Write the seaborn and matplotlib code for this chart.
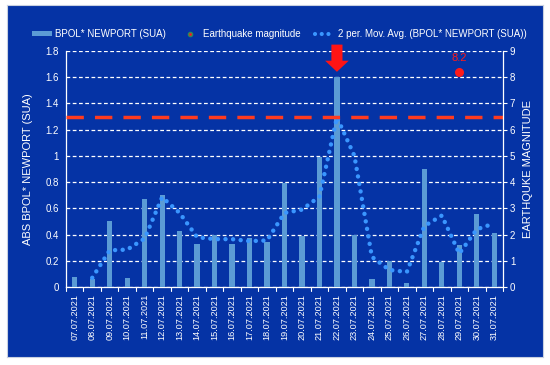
import numpy as np
import pandas as pd
import seaborn as sns
import matplotlib.pyplot as plt
from matplotlib.lines import Line2D
from matplotlib.patches import Patch

dates = ['07.07.2021', '08.07.2021', '09.07.2021', '10.07.2021', '11.07.2021',
         '12.07.2021', '13.07.2021', '14.07.2021', '15.07.2021', '16.07.2021',
         '17.07.2021', '18.07.2021', '19.07.2021', '20.07.2021', '21.07.2021',
         '22.07.2021', '23.07.2021', '24.07.2021', '25.07.2021', '26.07.2021',
         '27.07.2021', '28.07.2021', '29.07.2021', '30.07.2021', '31.07.2021']
bpol = [0.08, 0.06, 0.50, 0.07, 0.67, 0.70, 0.43, 0.33, 0.40, 0.33, 0.37, 0.34,
        0.79, 0.39, 0.99, 1.60, 0.40, 0.06, 0.20, 0.03, 0.90, 0.19, 0.32, 0.56, 0.41]
quake_date = '29.07.2021'
quake_mag = 8.2
threshold = 1.3

bg = '#0533A5'
white = 'white'

df = pd.DataFrame({'date': dates, 'bpol': bpol})
df['pos'] = np.arange(len(df))
df['mavg'] = df['bpol'].rolling(2).mean()

sns.set_style('white')
plt.rcParams['font.family'] = ['Liberation Sans', 'DejaVu Sans']

fig = plt.figure(figsize=(5.5, 3.65), dpi=100)
fig.patch.set_facecolor('white')
# blue chart area behind everything
bgax = fig.add_axes([7 / 550, 1 - 357 / 365, 536 / 550, 352 / 365], zorder=-5)
bgax.set_facecolor(bg)
bgax.set_xticks([])
bgax.set_yticks([])
for s in bgax.spines.values():
    s.set_color('#c8d0e0')
    s.set_linewidth(0.8)

ax = fig.add_axes([66 / 550, 1 - 287 / 365, 437 / 550, 236 / 365])
ax.patch.set_alpha(0)

sns.barplot(data=df, x='pos', y='bpol', color='#5B9BD5', saturation=1,
            width=0.3, linewidth=0, edgecolor='none', ax=ax, zorder=3)
sns.lineplot(data=df, x='pos', y='mavg', ax=ax, color='#3A96FF', lw=3.2,
             linestyle=(0, (0.01, 1.7)), dash_capstyle='round', zorder=4)
ax.axhline(threshold, color='#FF3B1F', lw=2.5, linestyle=(0, (5, 3.2)), zorder=5)

ax.set_xlim(-0.5, len(dates) - 0.5)
ax.set_ylim(0, 1.8)
ax.set_yticks(np.arange(0, 1.81, 0.2))
ax.set_yticklabels(['0'] + [f'{v:g}' for v in np.arange(0.2, 1.81, 0.2)])
ax.yaxis.grid(True, color=white, linestyle=(0, (3, 2)), lw=0.9)
ax.set_axisbelow(True)
ax.set_xticks(df['pos'])
ax.set_xticklabels(dates, rotation=90, color=white, fontsize=6.6)
ax.tick_params(axis='x', length=0, pad=5)
for p in np.arange(-0.5, len(dates), 1):
    ax.plot([p, p], [0, -0.03], color=white, lw=0.8, clip_on=False, zorder=6)
ax.tick_params(axis='y', colors=white, labelsize=7, length=0, pad=5)
for s in ['top', 'right']:
    ax.spines[s].set_visible(False)
for s in ['left', 'bottom']:
    ax.spines[s].set_color(white)
    ax.spines[s].set_linewidth(0.9)
ax.set_xlabel('')
ax.set_ylabel('ABS BPOL* NEWPORT (SUA)', color=white, fontsize=8)
ax.yaxis.set_label_coords(-0.0755, 0.5)

ax2 = ax.twinx()
ax2.set_ylim(0, 9)
ax2.set_yticks(range(10))
qx = dates.index(quake_date)
ax2.scatter([qx], [quake_mag], color='#FF1A1A', s=30, zorder=6)
ax2.text(qx, quake_mag + 0.35, f'{quake_mag:g}', color='#FF1A1A', fontsize=8,
         ha='center', va='bottom')
ax2.tick_params(axis='y', colors=white, labelsize=7, length=3, pad=2,
                direction='out')
for s in ['top', 'left', 'bottom']:
    ax2.spines[s].set_visible(False)
ax2.spines['right'].set_color(white)
ax2.spines['right'].set_linewidth(0.9)
ax2.set_ylabel('EARTHQUKE MAGNITUDE', color=white, fontsize=8)
ax2.yaxis.set_label_coords(1.0458, 0.5)
ax2.grid(False)

# red arrow at the main peak
peak = int(np.argmax(bpol))
ax.annotate('', xy=(peak, 1.62), xytext=(peak, 1.87), annotation_clip=False,
            arrowprops=dict(arrowstyle='simple,head_width=1.7,head_length=0.8,tail_width=0.8',
                            mutation_scale=10, color='#FF1414', lw=0))

handles = [Patch(facecolor='#5B9BD5', edgecolor='none', label='BPOL* NEWPORT (SUA)'),
           Line2D([], [], marker='o', color='none', markerfacecolor='#FF1A1A',
                  markeredgecolor='#2E8B57', markersize=3, label='Earthquake magnitude'),
           Line2D([], [], color='#3A96FF', lw=3, linestyle=(0, (0.01, 1.6)),
                  dash_capstyle='round', label='2 per. Mov. Avg. (BPOL* NEWPORT (SUA))')]
leg = fig.legend(handles=handles, loc='center', bbox_to_anchor=(0.508, 1 - 34 / 365),
                 ncol=3, frameon=False, fontsize=7, handlelength=2.0,
                 handleheight=0.5, columnspacing=1.4, handletextpad=0.4)
for t in leg.get_texts():
    t.set_color(white)

fig.savefig('out.png', dpi=100, facecolor=fig.get_facecolor())
